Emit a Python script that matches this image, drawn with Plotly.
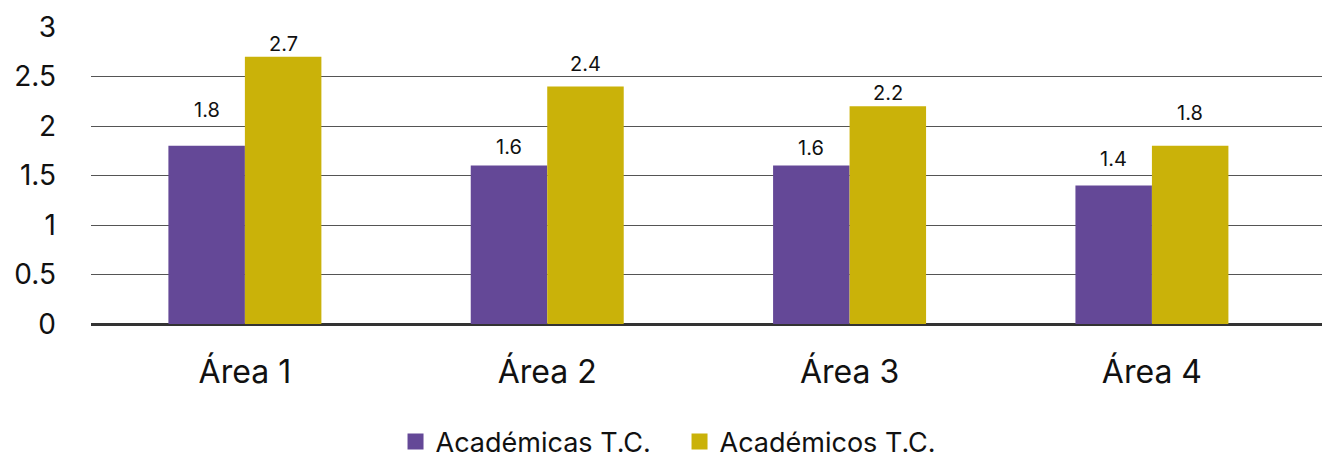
import plotly.graph_objects as go

categories = ["Área 1", "Área 2", "Área 3", "Área 4"]
academicas = [1.8, 1.6, 1.6, 1.4]
academicos = [2.7, 2.4, 2.2, 1.8]
series_names = ["Académicas T.C.", "Académicos T.C."]
y_ticks = [0, 0.5, 1, 1.5, 2, 2.5, 3]
y_tick_text = ["0", "0.5", "1", "1.5", "2", "2.5", "3"]

# style: label pixel offsets above the bar tops
label_shift_a = [36, 19, 18, 26]
label_shift_b = [13, 22, 13, 33]
colors = ["#644897", "#CAB209"]
FONT = "Inter"

fig = go.Figure()
fig.add_trace(go.Bar(x=categories, y=academicas, name=series_names[0], showlegend=False,
                     marker=dict(color=colors[0], line=dict(width=0))))
fig.add_trace(go.Bar(x=categories, y=academicos, name=series_names[1], showlegend=False,
                     marker=dict(color=colors[1], line=dict(width=0))))
# legend entries with larger square symbols
for name, col in zip(series_names, colors):
    fig.add_trace(go.Scatter(x=[None], y=[None], mode="markers", name=name,
                             marker=dict(symbol="square", size=17, color=col)))

bw = 0.253
for i, c in enumerate(categories):
    fig.add_annotation(x=i - bw / 2, y=academicas[i], text=str(academicas[i]),
                       showarrow=False, yanchor="middle", yshift=label_shift_a[i],
                       font=dict(size=20, color="#111", family=FONT))
    fig.add_annotation(x=i + bw / 2, y=academicos[i], text=str(academicos[i]),
                       showarrow=False, yanchor="middle", yshift=label_shift_b[i],
                       font=dict(size=20, color="#111", family=FONT))

fig.update_layout(
    width=1322, height=450,
    margin=dict(l=83, r=0, t=19, b=134, autoexpand=False),
    plot_bgcolor="white", paper_bgcolor="white",
    barmode="group", bargap=0.494, bargroupgap=0,
    font=dict(family=FONT, color="#111"),
    legend=dict(orientation="h", x=0.475, xanchor="center", y=-0.397, yanchor="middle",
                font=dict(size=27, family=FONT, color="#111"),
                entrywidth=239, entrywidthmode="pixels",
                traceorder="normal", itemsizing="trace", tracegroupgap=0),
    xaxis=dict(range=[-0.509, 3.589], showgrid=False, showline=False, zeroline=False,
               ticks="", tickfont=dict(size=32, family=FONT, color="#111"),
               ticklabelstandoff=26, automargin=False),
    yaxis=dict(range=[0, 3], tickvals=y_ticks, ticktext=y_tick_text,
               showgrid=True, gridcolor="#555555", gridwidth=1.2,
               zeroline=True, zerolinecolor="#333333", zerolinewidth=2.5,
               showline=False, ticks="",
               tickfont=dict(size=28, family=FONT, color="#111"),
               ticklabelstandoff=34, automargin=False),
)

fig.write_html("out.html")
